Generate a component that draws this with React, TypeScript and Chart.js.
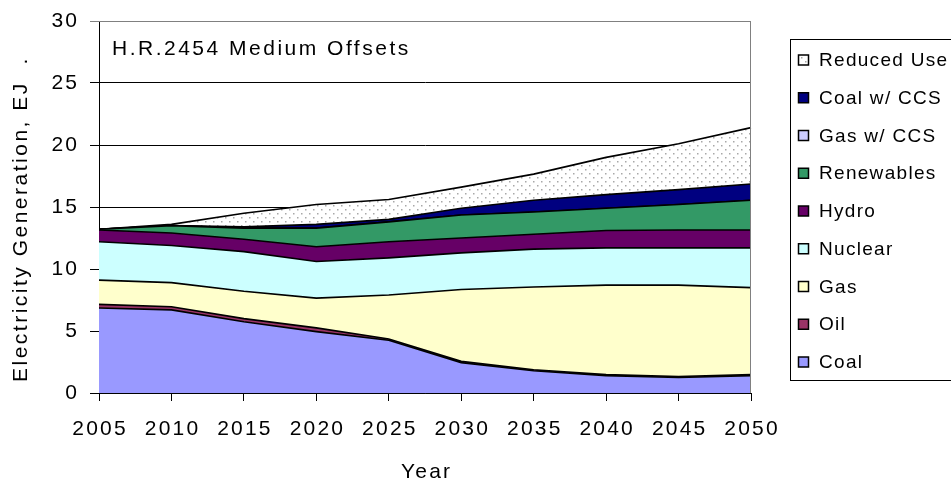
import React, { useEffect, useRef } from 'react';
import { Chart, registerables } from 'chart.js';

Chart.register(...registerables);

const years = ['2005', '2010', '2015', '2020', '2025', '2030', '2035', '2040', '2045', '2050'];
const coal = [6.85, 6.7, 5.75, 4.95, 4.25, 2.45, 1.8, 1.4, 1.25, 1.4];
const oil = [0.3, 0.25, 0.25, 0.3, 0.1, 0.1, 0.08, 0.08, 0.08, 0.08];
const gas = [1.95, 1.95, 2.2, 2.4, 3.55, 5.8, 6.67, 7.22, 7.37, 7.02];
const nuclear = [3.1, 3.0, 3.2, 2.95, 3.0, 2.95, 3.05, 3.0, 3.0, 3.2];
const hydro = [0.95, 1.0, 1.0, 1.2, 1.3, 1.2, 1.2, 1.4, 1.45, 1.45];
const renewables = [0.05, 0.6, 0.9, 1.5, 1.6, 1.85, 1.8, 1.8, 2.05, 2.4];
const gasCcs = [0, 0, 0, 0, 0, 0, 0, 0, 0, 0];
const coalCcs = [0, 0, 0.1, 0.3, 0.2, 0.55, 0.95, 1.1, 1.2, 1.3];
const reducedUse = [0, 0.1, 1.1, 1.6, 1.6, 1.7, 2.1, 3.0, 3.7, 4.55];
const yTicks = [0, 5, 10, 15, 20, 25, 30];

const seriesNames = ['Coal', 'Oil', 'Gas', 'Nuclear', 'Hydro', 'Renewables', 'Gas w/ CCS', 'Coal w/ CCS', 'Reduced Use'];
const seriesData = [coal, oil, gas, nuclear, hydro, renewables, gasCcs, coalCcs, reducedUse];
const seriesColors = ['#9999FF', '#993366', '#FFFFCC', '#CCFFFF', '#660066', '#339966', '#CCCCFF', '#000080', 'pattern'];

const chartTitle = 'H.R.2454 Medium Offsets';
const yTitle = 'Electricity Generation, EJ  .';
const xTitle = 'Year';

const FONT = '"Liberation Sans", Arial, sans-serif';

function makePattern(): CanvasPattern | string {
  const c = document.createElement('canvas');
  c.width = 8;
  c.height = 8;
  const g = c.getContext('2d');
  if (!g) return '#ffffff';
  g.fillStyle = '#ffffff';
  g.fillRect(0, 0, 8, 8);
  g.fillStyle = '#a8a8a8';
  g.fillRect(1, 1, 1.5, 1.5);
  g.fillRect(5, 5, 1.5, 1.5);
  return g.createPattern(c, 'repeat') || '#ffffff';
}

const textPlugin = {
  id: 'customText',
  afterDraw(chart: any) {
    const ctx: CanvasRenderingContext2D = chart.ctx;
    const area = chart.chartArea;
    const ys = chart.scales.y;
    const xs = chart.scales.x;
    ctx.save();
    ctx.strokeStyle = '#808080';
    ctx.lineWidth = 1;
    ctx.beginPath();
    ctx.moveTo(area.left, area.top + 0.5);
    ctx.lineTo(area.right - 0.5, area.top + 0.5);
    ctx.lineTo(area.right - 0.5, area.bottom);
    ctx.stroke();

    ctx.fillStyle = '#000';
    let sp = 2.2;
    (ctx as any).letterSpacing = sp + 'px';
    ctx.font = '21px ' + FONT;
    ctx.textAlign = 'right';
    ctx.textBaseline = 'middle';
    yTicks.forEach((v) => {
      ctx.fillText(String(v), 77 + sp, ys.getPixelForValue(v));
    });
    ctx.textAlign = 'center';
    years.forEach((yr, i) => {
      ctx.fillText(yr, xs.getPixelForValue(i) + sp / 2, 429);
    });
    ctx.fillText(xTitle, 425.5 + sp / 2, 472);

    sp = 2.5;
    (ctx as any).letterSpacing = sp + 'px';
    ctx.textAlign = 'left';
    ctx.fillText(chartTitle, 112, 49);
    ctx.save();
    ctx.translate(27, 382);
    ctx.rotate(-Math.PI / 2);
    ctx.textBaseline = 'alphabetic';
    ctx.textAlign = 'left';
    ctx.fillText(yTitle, 0, 0);
    ctx.restore();

    // legend
    ctx.strokeStyle = '#000';
    ctx.lineWidth = 1;
    ctx.strokeRect(790.5, 39.5, 200, 341);
    const lsp = 1.3;
    (ctx as any).letterSpacing = lsp + 'px';
    ctx.font = '19px ' + FONT;
    ctx.textAlign = 'left';
    ctx.textBaseline = 'middle';
    const n = chart.data.datasets.length;
    for (let k = 0; k < n; k++) {
      const ds = chart.data.datasets[n - 1 - k];
      const cy = 60 + k * 37.75;
      ctx.fillStyle = ds.backgroundColor;
      ctx.fillRect(798.5, cy - 5, 10, 10);
      ctx.lineWidth = 1.5;
      ctx.strokeStyle = '#000';
      ctx.strokeRect(798.5, cy - 5, 10, 10);
      ctx.fillStyle = '#000';
      ctx.fillText(ds.label, 819, cy + 1);
    }
    ctx.restore();
  },
};

export default function App() {
  const ref = useRef<HTMLCanvasElement | null>(null);
  useEffect(() => {
    if (!ref.current) return;
    const pattern = makePattern();
    const datasets = seriesNames.map((name, i) => ({
      label: name,
      data: seriesData[i],
      backgroundColor: seriesColors[i] === 'pattern' ? pattern : seriesColors[i],
      borderColor: '#000000',
      borderWidth: 1.6,
      fill: i === 0 ? 'origin' : '-1',
      pointRadius: 0,
      pointHoverRadius: 0,
      tension: 0,
    }));
    const chart = new Chart(ref.current, {
      type: 'line',
      data: { labels: years, datasets: datasets as any },
      options: {
        animation: false,
        responsive: false,
        devicePixelRatio: 1,
        layout: { padding: { left: 0, top: 21, right: 200, bottom: 0 } },
        plugins: { legend: { display: false }, tooltip: { enabled: false }, title: { display: false } },
        scales: {
          x: {
            type: 'category',
            offset: false,
            grid: { drawOnChartArea: false, drawTicks: true, tickLength: 8, color: '#000' },
            border: { color: '#000', width: 1 },
            ticks: { display: false },
            afterFit: (s: any) => { s.height = 89; },
          },
          y: {
            stacked: true,
            min: 0,
            max: 30,
            ticks: { display: false, stepSize: 5 },
            grid: {
              tickLength: 9,
              color: (c: any) => (c.tick && c.tick.value === 30 ? '#808080' : '#000'),
            },
            border: { color: '#000', width: 1 },
            afterFit: (s: any) => { s.width = 99; },
          },
        },
      },
      plugins: [textPlugin],
    });
    return () => chart.destroy();
  }, []);
  return (
    <div style={{ position: 'fixed', left: 0, top: 0, width: 951, height: 482, background: '#fff' }}>
      <canvas ref={ref} width={951} height={482} style={{ width: 951, height: 482, display: 'block' }} />
    </div>
  );
}
